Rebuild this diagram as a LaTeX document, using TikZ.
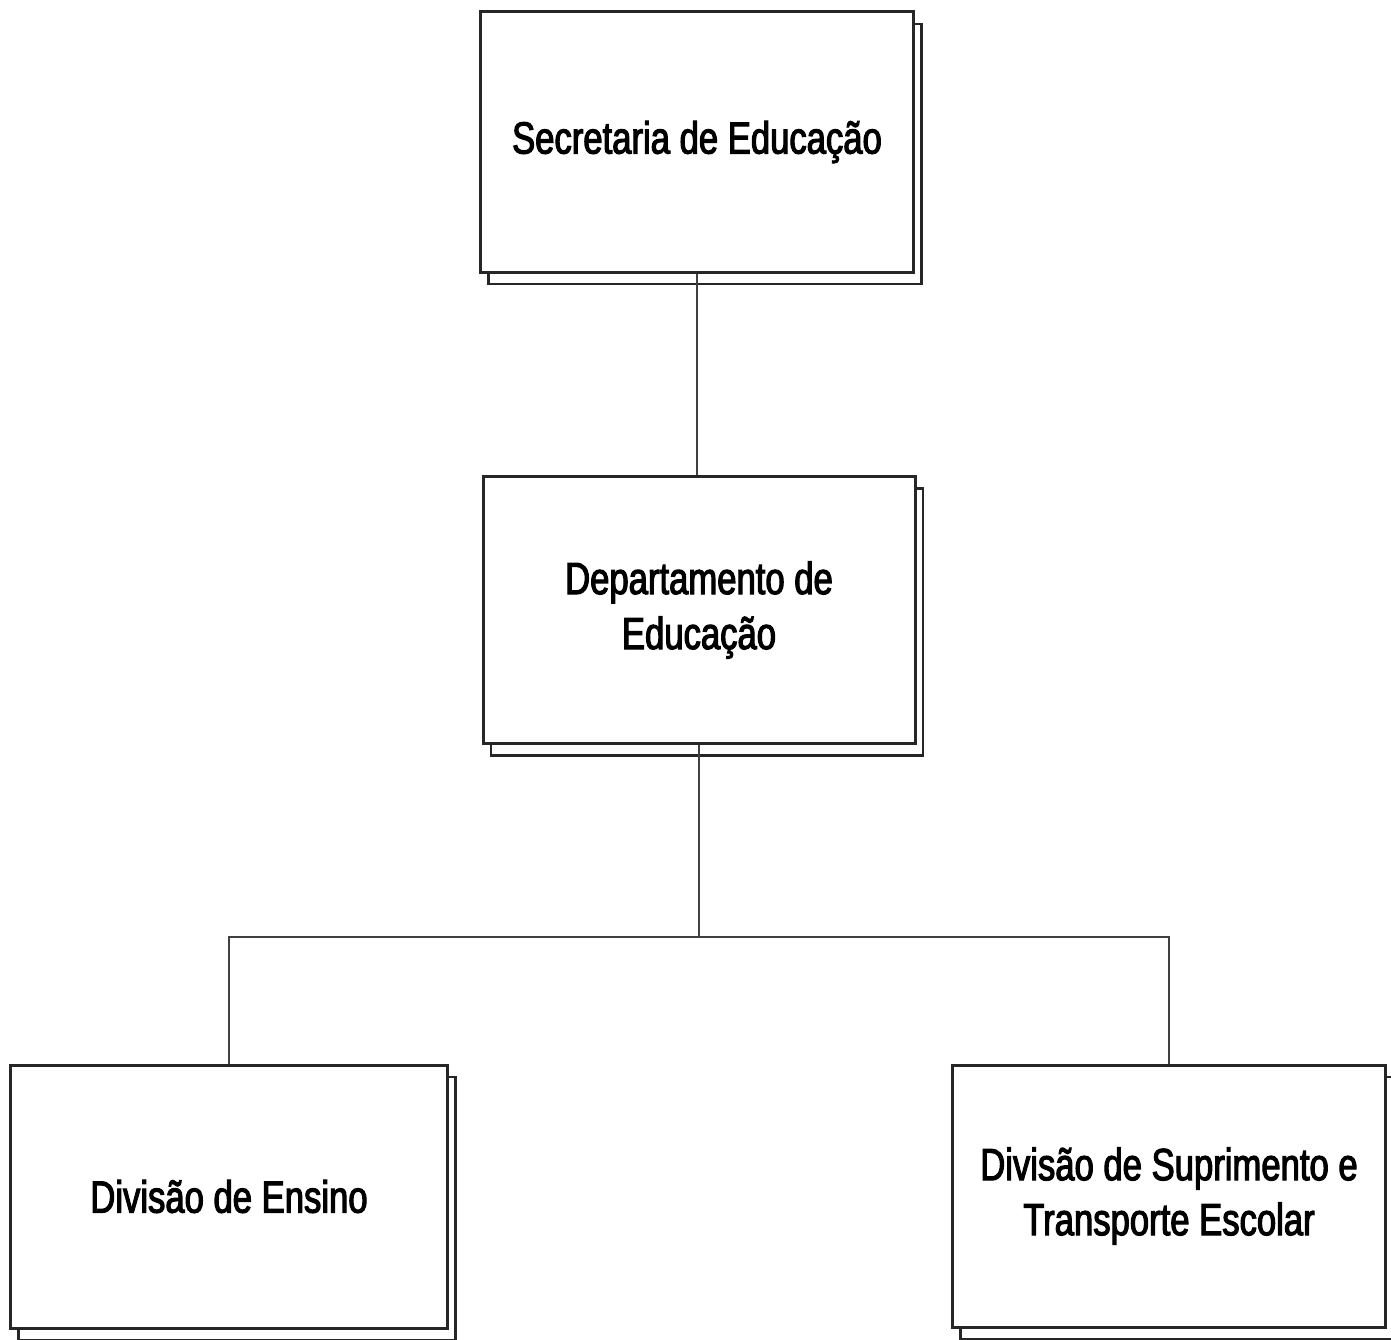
\documentclass[tikz,border=0pt]{standalone}
\usepackage{fontspec}
\setmainfont{Liberation Sans}
\newfontfamily\boxfont[FakeStretch=0.77,FakeBold=2.5]{Liberation Sans}
\usetikzlibrary{shadows}
\begin{document}
\begin{tikzpicture}[x=1pt,y=-1pt,
  box/.style={draw=black!85, line width=3pt, fill=white, inner sep=0pt,
    align=center, font=\boxfont\fontsize{45}{55}\selectfont,
    copy shadow={shadow xshift=8pt, shadow yshift=-12pt, draw=black!85, line width=2.4pt, fill=white}},
  conn/.style={draw=black!75, line width=1.8pt}]
\useasboundingbox (0,0) rectangle (1391,1340);
\node[box, minimum width=433pt, minimum height=260pt] (sec) at (697,142) {Secretaria de Educação};
\node[box, minimum width=432pt, minimum height=267pt] (dep) at (699,610) {Departamento de\\Educação};
\node[box, minimum width=437pt, minimum height=263pt] (ens) at (229,1196.5) {Divisão de Ensino};
\node[box, minimum width=433pt, minimum height=262pt] (sup) at (1169,1196) {Divisão de Suprimento e\\Transporte Escolar};
\coordinate (j) at (699,937);
\draw[conn] (sec.south) -- (sec.south |- dep.north);
\draw[conn] (dep.south) -- (j);
\draw[conn] (ens.north) |- (j) -| (sup.north);
\end{tikzpicture}
\end{document}
